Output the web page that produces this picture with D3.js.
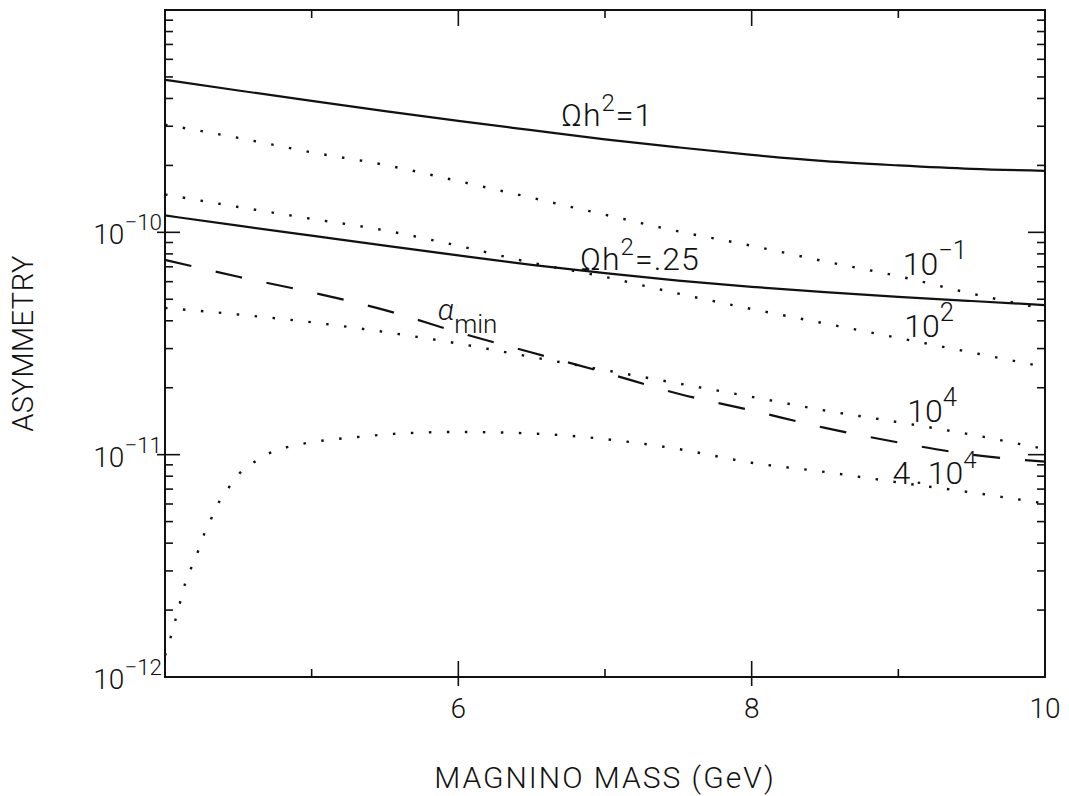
<!DOCTYPE html>
<html>
<head>
<meta charset="utf-8">
<script src="https://cdn.jsdelivr.net/npm/d3@7"></script>
<style>
  body { margin: 0; background: #fff; }
  text { font-family: Roboto, 'Liberation Sans', sans-serif; font-weight: 300; fill: #111; }
</style>
</head>
<body>
<div id="chart"></div>
<script>
const width = 1069;
const height = 796;
const margin = { top: 10, right: 24, bottom: 119, left: 165 };

// masses (GeV) where the smooth curves are sampled
const massGrid = [4, 4.5, 5, 5.5, 6, 6.5, 7, 7.5, 8, 8.5, 9, 9.5, 10];

// relic density contours (solid)
const omegaOne = [4.853e-10, 4.345e-10, 3.90e-10, 3.51e-10, 3.17e-10, 2.88e-10, 2.62e-10, 2.41e-10, 2.23e-10, 2.09e-10, 2.00e-10, 1.93e-10, 1.89e-10];
const omegaQuarter = [1.191e-10, 1.072e-10, 9.66e-11, 8.71e-11, 7.87e-11, 7.14e-11, 6.55e-11, 6.07e-11, 5.69e-11, 5.38e-11, 5.13e-11, 4.91e-11, 4.71e-11];

// minimum asymmetry (dashed)
const alphaMin = [7.52e-11, 6.31e-11, 5.37e-11, 4.47e-11, 3.55e-11, 2.88e-11, 2.34e-11, 1.88e-11, 1.58e-11, 1.32e-11, 1.135e-11, 1.0e-11, 9.3e-12];

// dotted contours
const dotTenMinus1 = [3.05e-10, 2.66e-10, 2.29e-10, 2.01e-10, 1.70e-10, 1.43e-10, 1.20e-10, 1.01e-10, 8.7e-11, 7.4e-11, 6.35e-11, 5.3e-11, 4.52e-11];
const dotTen2 = [1.48e-10, 1.30e-10, 1.15e-10, 1.02e-10, 8.7e-11, 7.3e-11, 6.3e-11, 5.3e-11, 4.52e-11, 3.89e-11, 3.35e-11, 2.88e-11, 2.48e-11];
const dotTen4 = [4.57e-11, 4.27e-11, 3.94e-11, 3.56e-11, 3.16e-11, 2.75e-11, 2.40e-11, 2.09e-11, 1.82e-11, 1.58e-11, 1.40e-11, 1.23e-11, 1.06e-11];

// the 4.10^4 contour turns over near threshold, so it gets its own mass samples
const massFourTen4 = [4.0, 4.02, 4.055, 4.09, 4.12, 4.16, 4.21, 4.25, 4.30, 4.35, 4.42, 4.49, 4.59, 4.70, 4.81, 4.93, 5.06, 5.31, 5.56, 6.0, 6.5, 7.0, 7.5, 8.0, 8.5, 9.0, 9.5, 10.0];
const dotFourTen4 = [1.25e-12, 1.36e-12, 1.66e-12, 2.0e-12, 2.41e-12, 2.9e-12, 3.43e-12, 4.13e-12, 4.88e-12, 5.82e-12, 6.87e-12, 8.0e-12, 9.08e-12, 1.007e-11, 1.07e-11, 1.117e-11, 1.153e-11, 1.20e-11, 1.24e-11, 1.265e-11, 1.245e-11, 1.175e-11, 1.06e-11, 9.2e-12, 8.36e-12, 7.5e-12, 6.76e-12, 6.03e-12];

// axis ticks
const xMajor = [6, 8, 10];
const xMajorLabels = ['6', '8', '10'];
const xMinor = [5, 7, 9];
const yMajor = [1e-12, 1e-11, 1e-10];
const yMajorExp = ['\u221212', '\u221211', '\u221210'];
const yMinorMult = [2, 3, 4, 5, 6, 7, 8, 9];

const svg = d3
  .select('#chart')
  .append('svg')
  .attr('width', width)
  .attr('height', height);

const x = d3.scaleLinear().domain([4, 10]).range([margin.left, width - margin.right]);
const y = d3.scaleLog().domain([1e-12, 1e-9]).range([height - margin.bottom, margin.top]);

const x0 = x.range()[0], x1 = x.range()[1];
const y0 = y.range()[0], y1 = y.range()[1];

//-----curves-----
const line = d3
  .line()
  .x((d) => x(d[0]))
  .y((d) => y(d[1]))
  .curve(d3.curveMonotoneX);

const pairs = (xs, ys) => xs.map((m, i) => [m, ys[i]]);

const curves = [
  { data: pairs(massGrid, omegaOne), dash: null, w: 2.2 },
  { data: pairs(massGrid, omegaQuarter), dash: null, w: 2.2 },
  { data: pairs(massGrid, alphaMin), dash: '27 25', w: 2.2 },
  { data: pairs(massGrid, dotTenMinus1), dash: '2.5 15.5', w: 2.4 },
  { data: pairs(massGrid, dotTen2), dash: '2.5 15.5', w: 2.4 },
  { data: pairs(massGrid, dotTen4), dash: '2.5 15.5', w: 2.4 },
  { data: pairs(massFourTen4, dotFourTen4), dash: '2.5 15.5', w: 2.4 },
];

svg
  .append('g')
  .selectAll('path')
  .data(curves)
  .join('path')
  .attr('d', (d) => line(d.data))
  .attr('fill', 'none')
  .attr('stroke', '#111')
  .attr('stroke-width', (d) => d.w)
  .attr('stroke-dasharray', (d) => d.dash);

//-----frame and ticks-----
const axes = svg.append('g').attr('stroke', '#111').attr('fill', 'none');

axes
  .append('rect')
  .attr('x', x0)
  .attr('y', y1)
  .attr('width', x1 - x0)
  .attr('height', y0 - y1)
  .attr('stroke-width', 2);

const tick = (xa, ya, xb, yb) =>
  axes.append('line').attr('x1', xa).attr('y1', ya).attr('x2', xb).attr('y2', yb).attr('stroke-width', 1.6);

// bottom and top
xMajor.filter((v) => v < 10).forEach((v) => {
  tick(x(v), y0 + 9, x(v), y0 - 16);
  tick(x(v), y1, x(v), y1 + 16);
});
xMinor.forEach((v) => {
  tick(x(v), y0, x(v), y0 - 8);
  tick(x(v), y1, x(v), y1 + 8);
});

// left and right
yMajor.slice(1).forEach((v) => {
  tick(x0 - 8, y(v), x0 + 15, y(v));
  tick(x1, y(v), x1 - 17, y(v));
});
yMajor.forEach((v) => {
  yMinorMult.forEach((m) => {
    const yy = y(v * m);
    tick(x0, yy, x0 + 8, yy);
    tick(x1, yy, x1 - 8, yy);
  });
});

//-----text-----
function powerLabel(g, px, py, base, sup, size, anchor) {
  const t = g
    .append('text')
    .attr('x', px)
    .attr('y', py)
    .attr('font-size', size)
    .attr('text-anchor', anchor || 'start');
  t.append('tspan').text(base);
  t.append('tspan').attr('dy', -size * 0.5).attr('font-size', size * 0.8).text(sup);
  return t;
}

// height of a sampled curve at a given mass (log-linear between samples)
function onCurve(xs, ys, mass) {
  const i = Math.max(1, d3.bisectLeft(xs, mass));
  const t = (mass - xs[i - 1]) / (xs[i] - xs[i - 1]);
  return y(Math.exp(Math.log(ys[i - 1]) * (1 - t) + Math.log(ys[i]) * t));
}

const labels = svg.append('g');

xMajor.forEach((v, i) => {
  labels
    .append('text')
    .attr('x', x(v))
    .attr('y', y0 + 41)
    .attr('text-anchor', 'middle')
    .attr('font-size', 28)
    .text(xMajorLabels[i]);
});

yMajor.forEach((v, i) => {
  powerLabel(labels, x0 - 3, y(v) + 12, '10', yMajorExp[i], 28, 'end');
});

labels
  .append('text')
  .attr('x', (x0 + x1) / 2)
  .attr('y', 788)
  .attr('text-anchor', 'middle')
  .attr('font-size', 30)
  .attr('letter-spacing', 2)
  .text('MAGNINO MASS (GeV)');

labels
  .append('text')
  .attr('transform', `translate(33,${(y0 + y1) / 2}) rotate(-90)`)
  .attr('text-anchor', 'middle')
  .attr('font-size', 29)
  .attr('letter-spacing', 0.5)
  .text('ASYMMETRY');

// curve labels, sitting on or just above the curve they name
const labelSize = 32;
function omegaLabel(px, py, value) {
  const t = labels
    .append('text')
    .attr('x', px)
    .attr('y', py)
    .attr('font-size', labelSize)
    .attr('letter-spacing', 1);
  t.append('tspan').text('\u03a9h');
  t.append('tspan').attr('dy', -15).attr('font-size', 24).text('2');
  t.append('tspan').attr('dy', 15).text('=' + value);
}
omegaLabel(x(6.7), onCurve(massGrid, omegaOne, 6.7) - 8, '1');
omegaLabel(x(6.83), onCurve(massGrid, omegaQuarter, 6.83), '.25');

powerLabel(labels, x(9.03), onCurve(massGrid, dotTenMinus1, 9.03) - 2, '10', '\u22121', labelSize);
powerLabel(labels, x(9.04), onCurve(massGrid, dotTen2, 9.04) - 2, '10', '2', labelSize);
powerLabel(labels, x(9.06), onCurve(massGrid, dotTen4, 9.06) - 2, '10', '4', labelSize);

const four = labels
  .append('text')
  .attr('x', x(8.96))
  .attr('y', onCurve(massFourTen4, dotFourTen4, 8.96) + 2)
  .attr('font-size', labelSize);
four.append('tspan').text('4');
four.append('tspan').attr('dx', 5).text('.');
four.append('tspan').attr('dx', 5).text('10');
four.append('tspan').attr('dy', -16).attr('font-size', 24).text('4');

const alpha = labels
  .append('text')
  .attr('x', x(5.86))
  .attr('y', onCurve(massGrid, alphaMin, 5.86) - 6)
  .attr('font-size', 30);
alpha.append('tspan').attr('font-style', 'italic').text('\u03b1');
alpha.append('tspan').attr('dy', 13).attr('font-size', 26).text('min');
</script>
</body>
</html>
